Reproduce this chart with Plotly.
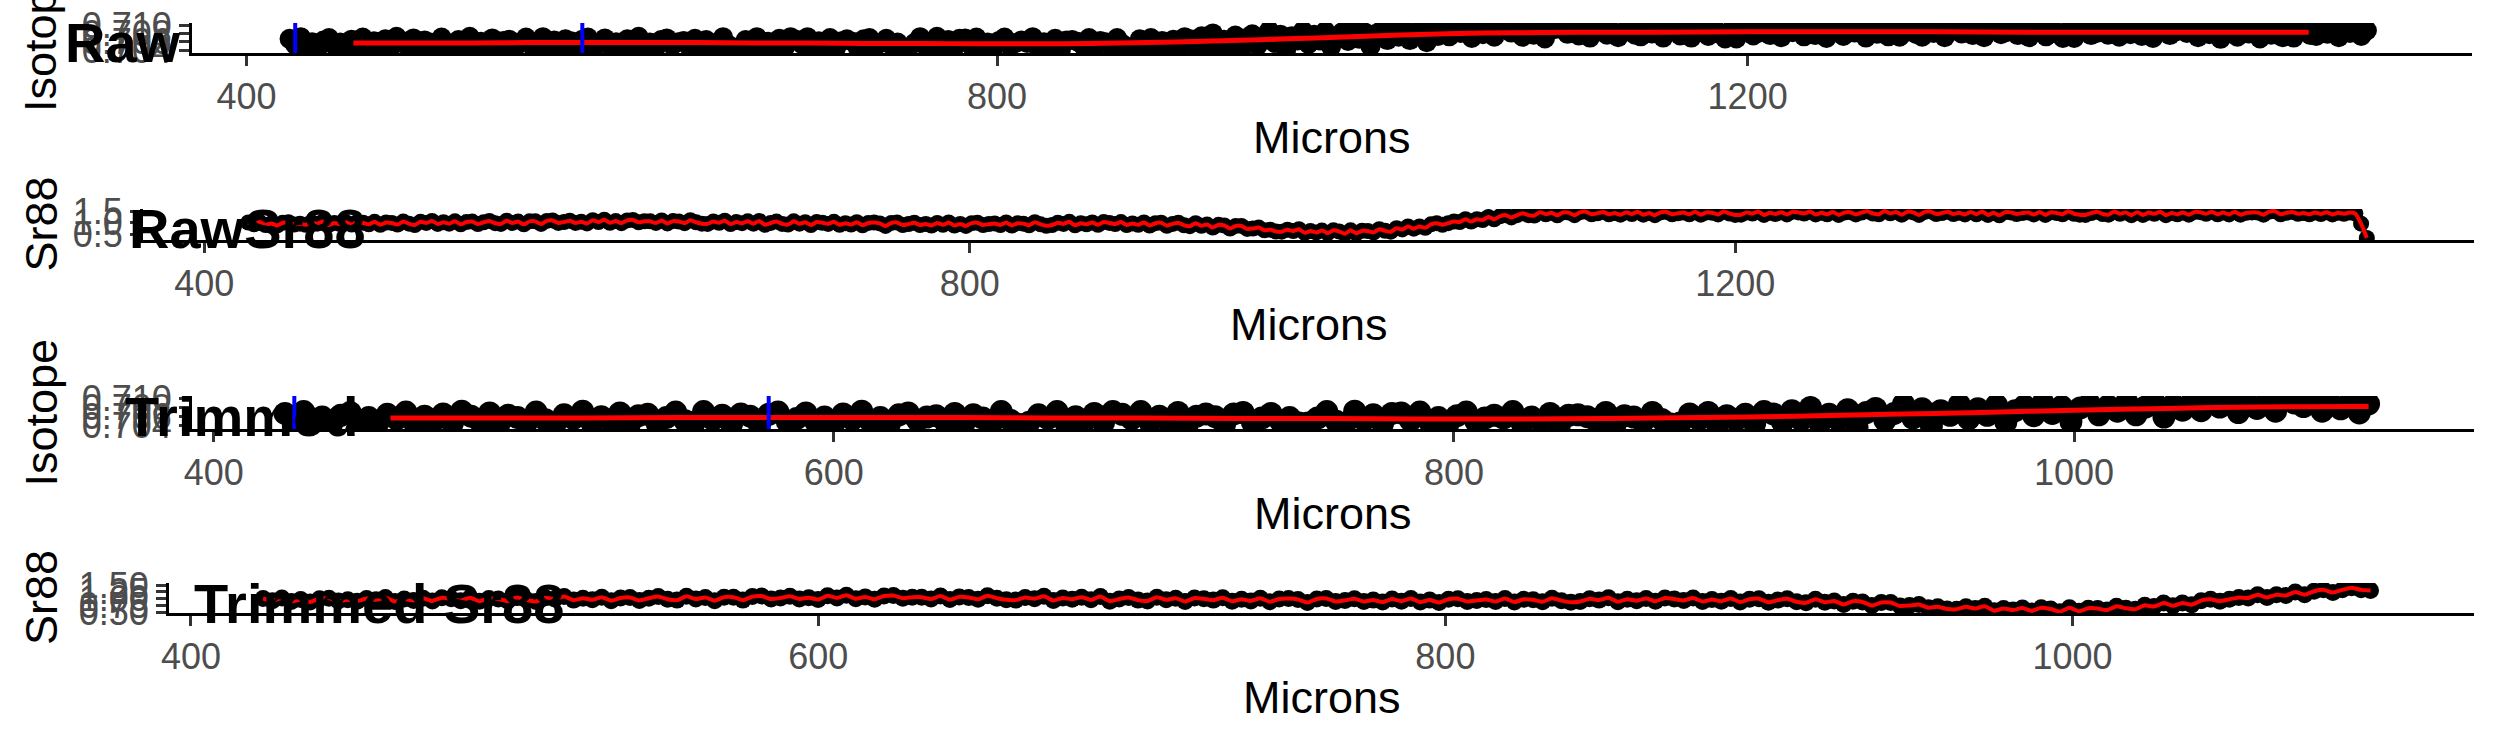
import numpy as np
import plotly.graph_objects as go

W, H = 2495, 749
FONT = "Liberation Sans, Arial, Helvetica, sans-serif"

# ---------------- data ----------------
# laser-ablation transect: sampling grid (microns)
micron_start = 423
micron_step = 3

# 87Sr/86Sr isotope ratio (raw)
isotope = [
    0.7067, 0.7053, 0.7071, 0.7049, 0.7059, 0.7044, 0.7063, 0.7069, 0.7051, 0.7058,
    0.7047, 0.7065, 0.7055, 0.7070, 0.7043, 0.7061, 0.7052, 0.7066, 0.7046, 0.7072,
    0.7061, 0.7049, 0.7068, 0.7044, 0.7063, 0.7058, 0.7048, 0.7070, 0.7053, 0.7042,
    0.7064, 0.7056, 0.7072, 0.7046, 0.7060, 0.7051, 0.7068, 0.7042, 0.7062, 0.7065,
    0.7045, 0.7058, 0.7070, 0.7051, 0.7047, 0.7071, 0.7054, 0.7063, 0.7044, 0.7066,
    0.7061, 0.7042, 0.7065, 0.7070, 0.7049, 0.7056, 0.7068, 0.7050, 0.7059, 0.7045,
    0.7066, 0.7054, 0.7072, 0.7048, 0.7058, 0.7045, 0.7064, 0.7068, 0.7052, 0.7059,
    0.7062, 0.7048, 0.7067, 0.7045, 0.7064, 0.7057, 0.7047, 0.7071, 0.7052, 0.7043,
    0.7048, 0.7064, 0.7056, 0.7071, 0.7044, 0.7060, 0.7051, 0.7067, 0.7047, 0.7071,
    0.7065, 0.7055, 0.7071, 0.7047, 0.7061, 0.7050, 0.7069, 0.7043, 0.7061, 0.7066,
    0.7060, 0.7043, 0.7066, 0.7069, 0.7048, 0.7057, 0.7067, 0.7051, 0.7058, 0.7046,
    0.7046, 0.7057, 0.7071, 0.7050, 0.7046, 0.7072, 0.7053, 0.7064, 0.7045, 0.7067,
    0.7068, 0.7052, 0.7070, 0.7050, 0.7058, 0.7043, 0.7062, 0.7070, 0.7050, 0.7057,
    0.7063, 0.7057, 0.7071, 0.7045, 0.7059, 0.7052, 0.7067, 0.7041, 0.7063, 0.7064,
    0.7060, 0.7050, 0.7069, 0.7043, 0.7062, 0.7059, 0.7049, 0.7069, 0.7054, 0.7044,
    0.7046, 0.7066, 0.7054, 0.7069, 0.7042, 0.7062, 0.7053, 0.7065, 0.7045, 0.7071,
    0.7066, 0.7048, 0.7073, 0.7053, 0.7080, 0.7046, 0.7065, 0.7053, 0.7075, 0.7037,
    0.7069, 0.7078, 0.7052, 0.7067, 0.7087, 0.7057, 0.7077, 0.7040, 0.7073, 0.7063,
    0.7086, 0.7055, 0.7077, 0.7063, 0.7085, 0.7048, 0.7073, 0.7083, 0.7062, 0.7090,
    0.7067, 0.7082, 0.7049, 0.7079, 0.7088, 0.7064, 0.7083, 0.7072, 0.7092, 0.7064,
    0.7081, 0.7090, 0.7059, 0.7086, 0.7074, 0.7092,
    0.7073, 0.7091, 0.7081, 0.7096, 0.7069, 0.7087, 0.7078, 0.7092, 0.7072, 0.7098,
    0.7090, 0.7082, 0.7098, 0.7072, 0.7086, 0.7077, 0.7094, 0.7068, 0.7088, 0.7091,
    0.7093, 0.7079, 0.7097, 0.7075, 0.7085, 0.7070, 0.7089, 0.7095, 0.7077, 0.7084,
    0.7071, 0.7084, 0.7096, 0.7077, 0.7073, 0.7097, 0.7080, 0.7089, 0.7070, 0.7092,
    0.7087, 0.7075, 0.7094, 0.7070, 0.7089, 0.7084, 0.7074, 0.7096, 0.7079, 0.7068,
    0.7087, 0.7068, 0.7091, 0.7096, 0.7075, 0.7082, 0.7094, 0.7076, 0.7085, 0.7071,
    0.7089, 0.7083, 0.7097, 0.7073, 0.7087, 0.7076, 0.7093, 0.7069, 0.7089, 0.7090,
    0.7074, 0.7090, 0.7082, 0.7095, 0.7070, 0.7086, 0.7079, 0.7091, 0.7073, 0.7097,
    0.7072, 0.7083, 0.7095, 0.7078, 0.7072, 0.7096, 0.7081, 0.7088, 0.7071, 0.7093,
    0.7092, 0.7080, 0.7096, 0.7076, 0.7084, 0.7071, 0.7090, 0.7094, 0.7078, 0.7083,
    0.7086, 0.7076, 0.7093, 0.7071, 0.7088, 0.7085, 0.7073, 0.7095, 0.7080, 0.7069,
    0.7088, 0.7069, 0.7090, 0.7095, 0.7076, 0.7081, 0.7093, 0.7077, 0.7084, 0.7072,
    0.7094, 0.7078, 0.7098, 0.7074, 0.7086, 0.7069, 0.7088, 0.7096, 0.7076, 0.7085,
    0.7091, 0.7081, 0.7097, 0.7071, 0.7087, 0.7078, 0.7095, 0.7067, 0.7089, 0.7092,
    0.7072, 0.7092, 0.7080, 0.7097, 0.7068, 0.7088, 0.7077, 0.7093, 0.7071, 0.7096,
    0.7070, 0.7085, 0.7097, 0.7076, 0.7074, 0.7096, 0.7079, 0.7090, 0.7071, 0.7093,
    0.7081, 0.7091, 0.7074, 0.7087,
]

# Sr88 signal (raw)
sr88 = [
    1.00, 0.92, 1.02, 0.89, 0.96, 0.87, 0.99, 1.01, 0.91, 0.95,
    0.90, 1.00, 0.95, 1.04, 0.89, 0.98, 0.93, 1.01, 0.91, 1.03,
    0.99, 0.92, 1.03, 0.90, 1.00, 0.98, 0.91, 1.04, 0.95, 0.89,
    1.03, 0.98, 1.07, 0.94, 1.01, 0.95, 1.05, 0.92, 1.02, 1.04,
    0.93, 1.01, 1.07, 0.97, 0.94, 1.08, 0.98, 1.04, 0.92, 1.05,
    1.05, 0.94, 1.07, 1.09, 0.98, 1.02, 1.08, 0.98, 1.03, 0.96,
    1.10, 1.02, 1.12, 0.99, 1.06, 0.97, 1.09, 1.11, 1.01, 1.05,
    1.05, 0.98, 1.09, 0.96, 1.06, 1.04, 0.97, 1.10, 1.01, 0.95,
    0.94, 1.04, 0.99, 1.08, 0.93, 1.02, 0.97, 1.05, 0.95, 1.07,
    0.90, 0.98, 1.04, 0.94, 0.91, 1.05, 0.95, 1.01, 0.89, 1.02,
    0.99, 0.94, 1.03, 0.90, 0.97, 0.91, 1.01, 0.88, 0.98, 1.00,
    0.96, 0.85, 0.98, 1.00, 0.89, 0.93, 0.99, 0.89, 0.94, 0.87,
    0.98, 0.90, 1.00, 0.87, 0.94, 0.85, 0.97, 0.99, 0.89, 0.93,
    0.96, 0.89, 1.00, 0.87, 0.97, 0.95, 0.88, 1.01, 0.92, 0.86,
    0.89, 0.99, 0.94, 1.03, 0.88, 0.97, 0.92, 1.00, 0.90, 1.02,
    0.98, 0.93, 1.02, 0.89, 0.96, 0.90, 1.00, 0.87, 0.97, 0.99,
    0.86, 0.94, 0.99, 0.88, 0.84, 0.97, 0.86, 0.91, 0.78, 0.90,
    0.87, 0.74, 0.85, 0.85, 0.72, 0.74, 0.78, 0.66, 0.69, 0.61,
    0.60, 0.69, 0.63, 0.71, 0.55, 0.63, 0.57, 0.65, 0.54, 0.66,
    0.61, 0.51, 0.66, 0.53, 0.64, 0.63, 0.57, 0.71, 0.64, 0.60,
    0.75, 0.70, 0.83, 0.73, 0.83, 0.77, 0.92, 0.97, 0.90, 0.97,
    1.04, 1.02, 1.14, 1.04, 1.14, 1.11, 1.24, 1.14, 1.27, 1.32,
    1.22, 1.32, 1.40, 1.32, 1.30, 1.45, 1.36, 1.42, 1.31, 1.44,
    1.43, 1.32, 1.45, 1.47, 1.36, 1.40, 1.46, 1.36, 1.41, 1.34,
    1.45, 1.37, 1.47, 1.34, 1.41, 1.32, 1.44, 1.46, 1.36, 1.40,
    1.43, 1.36, 1.47, 1.34, 1.44, 1.42, 1.35, 1.48, 1.39, 1.33,
    1.34, 1.44, 1.39, 1.48, 1.33, 1.42, 1.37, 1.45, 1.35, 1.47,
    1.44, 1.39, 1.48, 1.35, 1.42, 1.36, 1.46, 1.33, 1.43, 1.45,
    1.35, 1.43, 1.49, 1.39, 1.36, 1.50, 1.40, 1.46, 1.34, 1.47,
    1.44, 1.33, 1.46, 1.48, 1.37, 1.41, 1.47, 1.37, 1.42, 1.35,
    1.46, 1.36, 1.48, 1.33, 1.42, 1.31, 1.45, 1.44, 1.37, 1.41,
    1.44, 1.35, 1.46, 1.33, 1.45, 1.41, 1.36, 1.49, 1.38, 1.34,
    1.33, 1.41, 1.47, 1.37, 1.34, 1.48, 1.38, 1.44, 1.32, 1.45,
    1.33, 1.43, 1.38, 1.47, 1.32, 1.41, 1.36, 1.44, 1.34, 1.46,
    1.45, 1.38, 1.47, 1.36, 1.43, 1.35, 1.47, 1.34, 1.42, 1.44,
    1.43, 1.34, 1.47, 1.49, 1.36, 1.42, 1.46, 1.38, 1.41, 1.36,
    1.44, 1.37, 1.45, 1.35, 1.42, 1.38, 1.43, 1.39, 0.95, 0.33,
]

# smoothed isotope ratio (red curve)
iso_smooth_x = [457, 490, 520, 550, 580, 610, 640, 670, 700, 730, 760, 790, 820, 850, 880,
                910, 940, 970, 1000, 1030, 1060, 1090, 1095, 1120, 1150, 1200, 1250, 1300,
                1350, 1400, 1450, 1499]
iso_smooth_y = [0.7057, 0.7057, 0.7057, 0.7058, 0.7058, 0.7058, 0.7058, 0.7057, 0.7057,
                0.7056, 0.7056, 0.7055, 0.7055, 0.7056, 0.7058, 0.7061, 0.7065, 0.7069,
                0.7074, 0.7078, 0.7081, 0.7082, 0.7082, 0.7083, 0.7083, 0.7084, 0.7084,
                0.7084, 0.7083, 0.7083, 0.7083, 0.7083]

# trimming window markers (blue lines) and trim end
window_lines = [426, 579]
trim_end = 1096

titles = ["Raw", "RawSr88", "Trimmed", "Trimmed Sr88"]
y_titles = ["Isotope", "Sr88", "Isotope", "Sr88"]
x_title = "Microns"

iso_ticks = [0.704, 0.706, 0.708, 0.710]
iso_ticktext = ["0.704", "0.706", "0.708", "0.710"]
sr_raw_ticks = [0.5, 1.0, 1.5]
sr_raw_ticktext = ["0.5", "1.0", "1.5"]
sr_trim_ticks = [0.50, 0.75, 1.00, 1.25, 1.50]
sr_trim_ticktext = ["0.50", "0.75", "1.00", "1.25", "1.50"]
raw_xticks = [400, 800, 1200]
trim_xticks = [400, 600, 800, 1000]

# ---------------- derived ----------------
iso_x = micron_start + micron_step * np.arange(len(isotope))
sr_x = micron_start + micron_step * np.arange(len(sr88))
iso_y = np.array(isotope)
sr_y = np.array(sr88)
sm_x = np.array(iso_smooth_x)
sm_y = np.array(iso_smooth_y)

ti = iso_x <= trim_end
ts = sr_x <= trim_end
tm = sm_x <= trim_end

# panel layout (pixels): left, right, top, bottom
panels = [
    dict(px=(192, 2472, 23, 53), xr=[371, 1586], yr=[0.7033, 0.7105],
         yt=iso_ticks, ytt=iso_ticktext, xt=raw_xticks, msize=20,
         pts=(iso_x, iso_y), red=(sm_x, sm_y), smooth=True, blue=True),
    dict(px=(143, 2474, 209, 240), xr=[368, 1586], yr=[0.239, 1.587],
         yt=sr_raw_ticks, ytt=sr_raw_ticktext, xt=raw_xticks, msize=16,
         pts=(sr_x, sr_y), red=(sr_x, sr_y), smooth=False, blue=False),
    dict(px=(192, 2474, 396, 429), xr=[393, 1129], yr=[0.7033, 0.7105],
         yt=iso_ticks, ytt=iso_ticktext, xt=trim_xticks, msize=23,
         pts=(iso_x[ti], iso_y[ti]), red=(sm_x[tm], sm_y[tm]), smooth=True, blue=True),
    dict(px=(169, 2474, 583, 613), xr=[393, 1128], yr=[0.463, 1.574],
         yt=sr_trim_ticks, ytt=sr_trim_ticktext, xt=trim_xticks, msize=17,
         pts=(sr_x[ts], sr_y[ts]), red=(sr_x[ts], sr_y[ts]), smooth=False, blue=False),
]
title_pos = [(63, 42), (127, 228), (123, 416), (192, 603)]

fig = go.Figure()
shapes = []
annotations = []
layout_axes = {}

for k, p in enumerate(panels, start=1):
    l, r, t, b = p["px"]
    suffix = "" if k == 1 else str(k)
    xa, ya = f"x{suffix}", f"y{suffix}"
    fig.add_trace(go.Scatter(
        x=p["pts"][0], y=p["pts"][1], mode="markers", xaxis=xa, yaxis=ya,
        marker=dict(color="black", size=p["msize"], line=dict(width=0)),
        showlegend=False, hoverinfo="skip"))
    fig.add_trace(go.Scatter(
        x=p["red"][0], y=p["red"][1], mode="lines", xaxis=xa, yaxis=ya,
        line=dict(color="#FF0000", width=5 if p["smooth"] else 4,
                  shape="spline", smoothing=0.8 if p["smooth"] else 0.5),
        showlegend=False, hoverinfo="skip"))
    if p["blue"]:
        for bx in window_lines:
            shapes.append(dict(type="line", xref=xa, yref=f"{ya} domain",
                               x0=bx, x1=bx, y0=0, y1=1, layer="above",
                               line=dict(color="#0000FF", width=4)))
    axis_common = dict(showgrid=False, zeroline=False, showline=True, automargin=False,
                       linecolor="black", linewidth=3, ticks="outside",
                       ticklen=10, tickwidth=3, tickcolor="#333333",
                       tickfont=dict(family=FONT, size=36, color="#4D4D4D"))
    layout_axes[f"xaxis{suffix}"] = dict(
        domain=[l / W, r / W], range=p["xr"], anchor=ya,
        tickmode="array", tickvals=p["xt"], ticktext=[str(v) for v in p["xt"]],
        **axis_common)
    layout_axes[f"yaxis{suffix}"] = dict(
        domain=[1 - b / H, 1 - t / H], range=p["yr"], anchor=xa,
        tickmode="array", tickvals=p["yt"], ticktext=p["ytt"],
        **axis_common)
    # x-axis title
    annotations.append(dict(text=x_title, x=(l + r) / 2 / W, y=1 - (b + 84.5) / H,
                            xref="paper", yref="paper", xanchor="center", yanchor="middle",
                            showarrow=False, font=dict(family=FONT, size=45, color="black")))
    # y-axis title
    annotations.append(dict(text=y_titles[k - 1], x=41 / W, y=1 - ((t + b) / 2) / H,
                            xref="paper", yref="paper", xanchor="center", yanchor="middle",
                            textangle=-90, showarrow=False,
                            font=dict(family=FONT, size=45, color="black")))
    # panel title
    tx, ty = title_pos[k - 1]
    annotations.append(dict(text=f"<b>{titles[k - 1]}</b>", x=tx / W, y=1 - ty / H,
                            xref="paper", yref="paper", xanchor="left", yanchor="middle",
                            showarrow=False, font=dict(family=FONT, size=56, color="black")))

fig.update_layout(
    width=W, height=H, autosize=False,
    margin=dict(l=0, r=0, t=0, b=0, pad=0, autoexpand=False),
    paper_bgcolor="white", plot_bgcolor="white",
    font=dict(family=FONT),
    shapes=shapes, annotations=annotations,
    **layout_axes,
)

fig.write_html("out.html", config={"displayModeBar": False},
               post_script="document.body.style.margin='0';document.body.style.overflow='hidden';")
